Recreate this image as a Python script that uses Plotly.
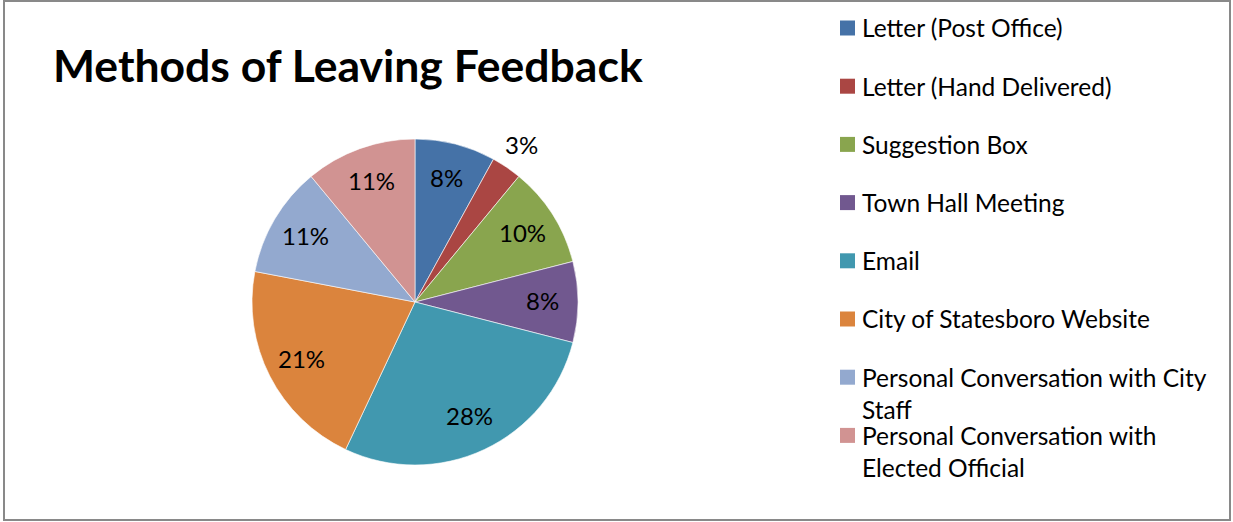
import math
import plotly.graph_objects as go

categories = [
    "Letter (Post Office)",
    "Letter (Hand Delivered)",
    "Suggestion Box",
    "Town Hall Meeting",
    "Email",
    "City of Statesboro Website",
    "Personal Conversation with City Staff",
    "Personal Conversation with Elected Official",
]
legend_text = [
    "Letter (Post Office)",
    "Letter (Hand Delivered)",
    "Suggestion Box",
    "Town Hall Meeting",
    "Email",
    "City of Statesboro Website",
    "Personal Conversation with City<br>Staff",
    "Personal Conversation with<br>Elected Official",
]
values = [8, 3, 10, 8, 28, 21, 11, 11]
colors = ["#4572A7", "#AA4643", "#89A54E", "#71588F",
          "#4198AF", "#DB843D", "#93A9CF", "#D19392"]
outside_labels = [False, True, False, False, False, False, False, False]

W, H = 1233, 522
FONT = "Lato"
cx, cy, R = 415, 302, 163  # pixel geometry of pie

fig = go.Figure()
fig.add_trace(go.Pie(
    labels=categories, values=values, sort=False, direction="clockwise",
    rotation=0, marker=dict(colors=colors, line=dict(color="white", width=0.6)),
    textinfo="none", hoverinfo="label+percent", showlegend=False,
    domain=dict(x=[(cx - R) / W, (cx + R) / W], y=[1 - (cy + R) / H, 1 - (cy - R) / H]),
))

total = sum(values)
annotations = []
cum = 0
for v, out in zip(values, outside_labels):
    mid = (cum + v / 2) / total * 2 * math.pi
    cum += v
    rr = R * (1.16 if out else 0.78)
    px = cx + rr * math.sin(mid)
    py = cy - rr * math.cos(mid)
    annotations.append(dict(
        x=px / W, y=1 - (py - 1.5) / H, xref="paper", yref="paper",
        text=f"{round(v / total * 100)}%", showarrow=False,
        font=dict(family=FONT, size=24, color="black"),
        xanchor="center", yanchor="middle"))

shapes = []
LSIZE = 24.5
lx, ly0, dy, sq = 840, 28, 58.2, 15
for i, (txt, col) in enumerate(zip(legend_text, colors)):
    yc = ly0 + i * dy
    shapes.append(dict(type="rect", xref="paper", yref="paper",
                       x0=lx / W, x1=(lx + sq) / W,
                       y0=1 - (yc + sq / 2) / H, y1=1 - (yc - sq / 2) / H,
                       fillcolor=col, line=dict(width=0)))
    annotations.append(dict(
        x=(lx + 20) / W, y=1 - (yc - 0.68 * LSIZE) / H, xref="paper", yref="paper",
        text=txt, showarrow=False, align="left",
        font=dict(family=FONT, size=LSIZE, color="black"),
        xanchor="left", yanchor="top"))

annotations.append(dict(
    x=51 / W, y=1 - 65 / H, xref="paper", yref="paper",
    text="<b>Methods of Leaving Feedback</b>", showarrow=False,
    font=dict(family=FONT, size=44.5, color="black"),
    xanchor="left", yanchor="middle"))

shapes.append(dict(type="rect", xref="paper", yref="paper",
                   x0=4 / W, x1=1230 / W, y0=1 - 520 / H, y1=1 - 1 / H,
                   line=dict(color="#898989", width=2), fillcolor="rgba(0,0,0,0)"))

fig.update_layout(
    width=W, height=H, margin=dict(l=0, r=0, t=0, b=0),
    paper_bgcolor="white", plot_bgcolor="white",
    annotations=annotations, shapes=shapes, showlegend=False,
)
fig.write_html("out.html", config={"displayModeBar": False},
               post_script="document.body.style.margin='0px';")
